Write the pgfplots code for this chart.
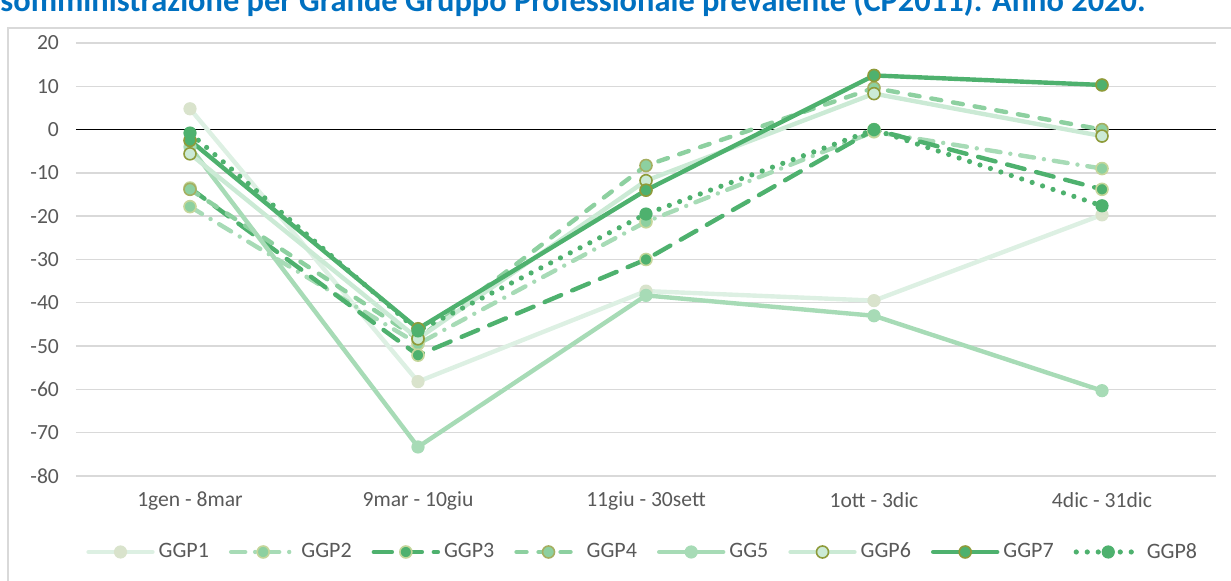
\documentclass[border=0pt]{standalone}
\usepackage{fontspec}
\setmainfont{Carlito}
\usepackage{pgfplots}
\pgfplotsset{compat=1.18}
\definecolor{dk}{HTML}{4EB16E}
\definecolor{md}{HTML}{8DD0A0}
\definecolor{lt}{HTML}{A7DBB6}
\definecolor{vl}{HTML}{CBEAD5}
\definecolor{xl}{HTML}{DDF0E3}
\definecolor{g1m}{HTML}{D9E3CC}
\definecolor{olive}{HTML}{8E9B3A}
\definecolor{olivel}{HTML}{C5D69A}
\definecolor{gridc}{HTML}{D9D9D9}
\definecolor{txt}{HTML}{595959}
\definecolor{titleblue}{HTML}{0070C0}
\begin{document}
\begin{tikzpicture}[x=1pt,y=1pt]
\node[anchor=base west, inner sep=0pt, font=\fontsize{16.2}{18}\selectfont\bfseries, text=titleblue] at (0,284.5) {somministrazione per Grande Gruppo Professionale prevalente (CP2011). Anno 2020.};
\draw[gridc, line width=0.7pt] (4,-5) rectangle (625,276.5);
\begin{axis}[
  at={(38pt,52.5pt)}, anchor=south west,
  scale only axis, width=570pt, height=216.5pt,
  xmin=-0.5, xmax=4.5, ymin=-80, ymax=20,
  axis line style={draw=none},
  xtick={0,1,2,3,4},
  xticklabels={1gen - 8mar, 9mar - 10giu, 11giu - 30sett, 1ott - 3dic, 4dic - 31dic},
  ytick={-80,-70,...,20},
  ymajorgrids, grid style={gridc, line width=0.7pt},
  extra y ticks={0}, extra y tick labels={},
  extra y tick style={grid style={black, line width=0.8pt}},
  tick style={draw=none},
  ticklabel style={font=\fontsize{10.8}{12}\selectfont, text=txt},
  /pgf/number format/assume math mode=true,
  yticklabel style={xshift=-5pt},
  xticklabel style={yshift=-4.5pt},
  clip=false,
  every axis plot/.append style={line width=2.2pt, line cap=round, line join=round},
  legend columns=8,
  legend style={at={(0.498,-0.1755)}, anchor=center, draw=none, fill=none,
    font=\fontsize{11}{13}\selectfont, text=txt,
    /tikz/every even column/.append style={column sep=8pt}},
  legend image code/.code={\draw[mark repeat=2,mark phase=2,#1] plot coordinates {(0pt,0pt) (16pt,0pt) (32pt,0pt)};},
]
\addplot[xl, mark=*, mark size=3pt, mark options={solid, fill=g1m, draw=g1m, line width=0.6pt}]
  coordinates {(0,4.8)(1,-58.2)(2,-37.3)(3,-39.5)(4,-19.7)};
\addlegendentry{GGP1}
\addplot[lt, dash pattern=on 7pt off 5pt on 0pt off 5pt, mark=*, mark size=3pt, mark options={solid, fill=md, draw=olivel, line width=0.8pt}]
  coordinates {(0,-17.8)(1,-49.5)(2,-21.3)(3,-0.5)(4,-9)};
\addlegendentry{GGP2}
\addplot[dk, dash pattern=on 9pt off 6pt, mark=*, mark size=3pt, mark options={solid, fill=dk, draw=olivel, line width=0.8pt}]
  coordinates {(0,-13.5)(1,-52.1)(2,-30)(3,0)(4,-13.8)};
\addlegendentry{GGP3}
\addplot[md, dash pattern=on 5pt off 6pt, mark=*, mark size=3pt, mark options={solid, fill=md, draw=olive!80, line width=0.8pt}]
  coordinates {(0,-13.8)(1,-48.3)(2,-8.3)(3,9.6)(4,0)};
\addlegendentry{GGP4}
\addplot[lt, mark=*, mark size=3pt, mark options={solid, fill=lt, draw=lt, line width=0.6pt}]
  coordinates {(0,-4)(1,-73.3)(2,-38.3)(3,-43)(4,-60.3)};
\addlegendentry{GG5}
\addplot[vl, mark=*, mark size=3pt, mark options={solid, fill=vl, draw=olive, line width=0.8pt}]
  coordinates {(0,-5.6)(1,-48.3)(2,-11.8)(3,8.3)(4,-1.5)};
\addlegendentry{GGP6}
\addplot[dk, mark=*, mark size=3pt, mark options={solid, fill=dk, draw=olive, line width=0.8pt}]
  coordinates {(0,-2.5)(1,-46)(2,-14)(3,12.5)(4,10.3)};
\addlegendentry{GGP7}
\addplot[dk, dash pattern=on 0pt off 5.5pt, line width=2.6pt, mark=*, mark size=3pt, mark options={solid, fill=dk, draw=dk, line width=0.6pt}]
  coordinates {(0,-0.8)(1,-46.5)(2,-19.5)(3,0)(4,-17.6)};
\addlegendentry{GGP8}
\end{axis}
\pgfresetboundingbox
\useasboundingbox (0,0) rectangle (615.5,290.5);
\end{tikzpicture}
\end{document}
